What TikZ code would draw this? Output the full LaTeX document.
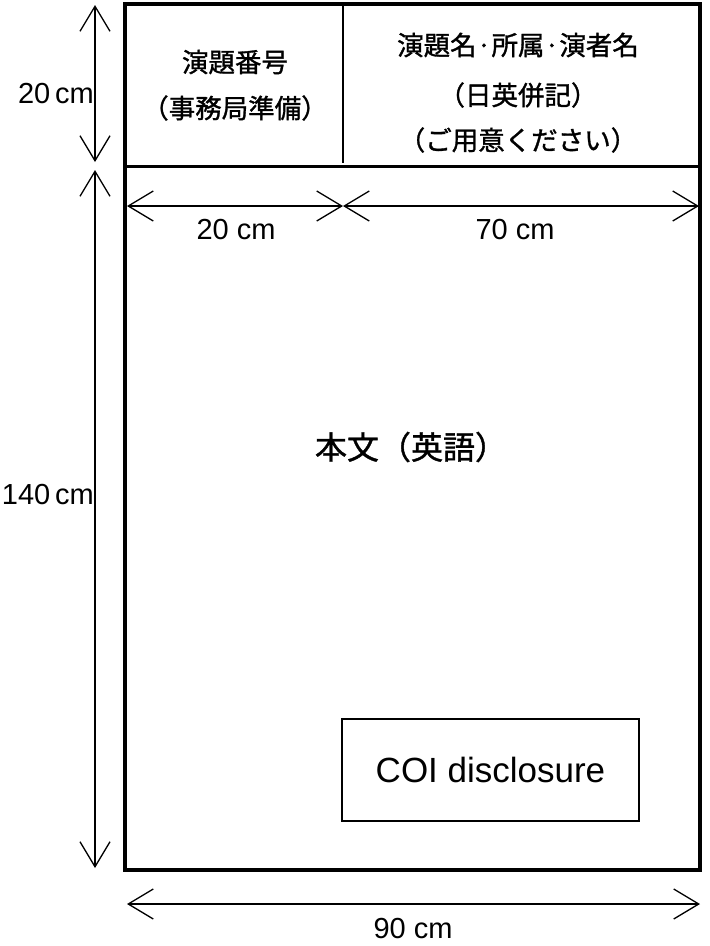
\documentclass[tikz,border=0pt]{standalone}
\usepackage{fontspec}
\setmainfont{Liberation Sans}
\newfontfamily\jp[FakeBold=1.2]{Noto Sans CJK JP}
\usetikzlibrary{arrows.meta}
\begin{document}
\begin{tikzpicture}[x=1pt,y=-1pt,
  barb/.tip={Straight Barb[length=25pt,width=30pt,line width=1.3pt]},
  dimline/.style={line width=1.3pt,barb-barb},
  lbl/.style={inner sep=0pt,font=\fontsize{29}{31}\selectfont},
  jptxt/.style={inner sep=0pt,font=\jp\fontsize{26.5}{28}\selectfont},
  frame/.style={line width=4pt},
  coibox/.style={draw,line width=1.5pt,minimum width=297pt,minimum height=102pt,inner sep=0pt,font=\fontsize{35}{37}\selectfont}]
\useasboundingbox (0,0) rectangle (710,946);
% frame
\coordinate (TL) at (125,4);
\coordinate (BR) at (700,870);
\draw[frame] (TL) rectangle (BR);
\coordinate (HL) at (125,166);
\coordinate (HR) at (700,166);
\draw[line width=3pt] (HL) -- (HR);
\coordinate (DT) at (343,4);
\coordinate (DB) at (343,163);
\draw[line width=2.5pt] (DT) -- (DB);
% header texts
\node[jptxt] (t1) at (235,62) {演題番号};
\node[jptxt] (t2) at (235,108) {（事務局準備）};
\node[jptxt] (t3) at (518,45) {演題名·所属·演者名};
\node[jptxt] (t4) at (518,95) {（日英併記）};
\node[jptxt] (t5) at (518,140) {（ご用意ください）};
% body
\node[inner sep=0pt,font=\jp\fontsize{32}{34}\selectfont] (body) at (411,447) {本文（英語）};
\node[coibox] (coi) at (490.5,770) {COI disclosure};
% vertical dims
\coordinate (V1a) at (95,5);
\coordinate (V1b) at (95,162);
\coordinate (V2a) at (95,170);
\coordinate (V2b) at (95,868);
\draw[dimline] (V1a) -- (V1b);
\draw[dimline] (V2a) -- (V2b);
\node[lbl,anchor=east] (l20v) at (94,94) {20\,cm};
\node[lbl,anchor=east] (l140) at (94,495) {140\,cm};
% horizontal dims
\coordinate (H1a) at (127,206);
\coordinate (H1b) at (343,206);
\coordinate (H2b) at (699,206);
\draw[dimline] (H1a) -- (H1b);
\draw[dimline] (H1b) -- (H2b);
\node[lbl] (l20h) at (236,230) {20 cm};
\node[lbl] (l70) at (515,230) {70 cm};
\coordinate (Ba) at (127,904);
\coordinate (Bb) at (700,904);
\draw[dimline] (Ba) -- (Bb);
\node[lbl,anchor=base] (l90) at (413,938) {90 cm};
\end{tikzpicture}
\end{document}
